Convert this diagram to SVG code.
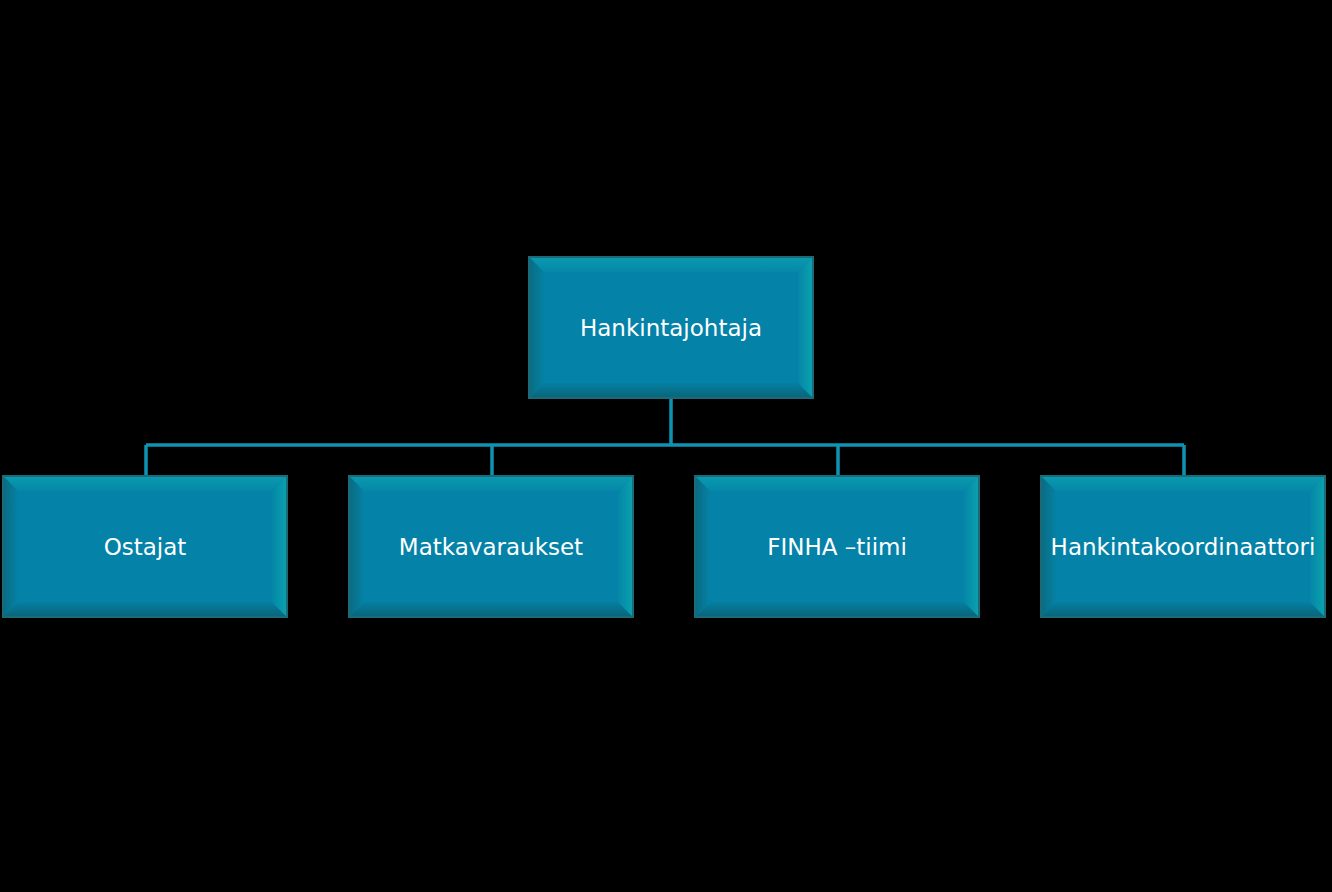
<svg xmlns="http://www.w3.org/2000/svg" width="1332" height="892" viewBox="0 0 1332 892">
<defs>
<style>
.face{fill:#0482A8}
.bt{fill:url(#gt)}
.bb{fill:url(#gb)}
.bl{fill:url(#gl)}
.br{fill:url(#gr)}
.frame{fill:none;stroke:#1A6A78;stroke-width:2}
.lbl{font-family:"DejaVu Sans",Verdana,sans-serif;font-size:23px;fill:#FFFFFF;text-anchor:middle}
.conn{fill:none;stroke:#0E93B2;stroke-width:3.5}
</style>
<linearGradient id="gt" x1="0" y1="0" x2="0" y2="1"><stop offset="0" stop-color="#0A9AAE"/><stop offset="1" stop-color="#0588A8"/></linearGradient>
<linearGradient id="gb" x1="0" y1="0" x2="0" y2="1"><stop offset="0" stop-color="#047FA2"/><stop offset="1" stop-color="#0A6478"/></linearGradient>
<linearGradient id="gl" x1="0" y1="0" x2="1" y2="0"><stop offset="0" stop-color="#0A6A80"/><stop offset="1" stop-color="#0582A6"/></linearGradient>
<linearGradient id="gr" x1="0" y1="0" x2="1" y2="0"><stop offset="0" stop-color="#0586A8"/><stop offset="1" stop-color="#0BA2AC"/></linearGradient>
<g id="box">
<rect x="0" y="0" width="284" height="141" class="face"/>
<polygon points="0,0 284,0 269,15 15,15" class="bt"/>
<polygon points="0,141 284,141 269,126 15,126" class="bb"/>
<polygon points="0,0 15,15 15,126 0,141" class="bl"/>
<polygon points="284,0 269,15 269,126 284,141" class="br"/>
<rect x="0" y="0" width="284" height="141" class="frame"/>
</g>
</defs>
<rect width="1332" height="892" fill="#000000"/>
<g id="connectors">
<path class="conn" d="M671,398 V445 M146,445 H1184 M146,445 V476 M492,445 V476 M838,445 V476 M1184,445 V476"/>
</g>
<g id="n0"><use href="#box" x="529" y="257"/><text class="lbl" x="671" y="336">Hankintajohtaja</text></g>
<g id="n1"><use href="#box" x="3" y="476"/><text class="lbl" x="145" y="555">Ostajat</text></g>
<g id="n2"><use href="#box" x="349" y="476"/><text class="lbl" x="491" y="555">Matkavaraukset</text></g>
<g id="n3"><use href="#box" x="695" y="476"/><text class="lbl" x="837" y="555">FINHA –tiimi</text></g>
<g id="n4"><use href="#box" x="1041" y="476"/><text class="lbl" x="1183" y="555">Hankintakoordinaattori</text></g>
</svg>
